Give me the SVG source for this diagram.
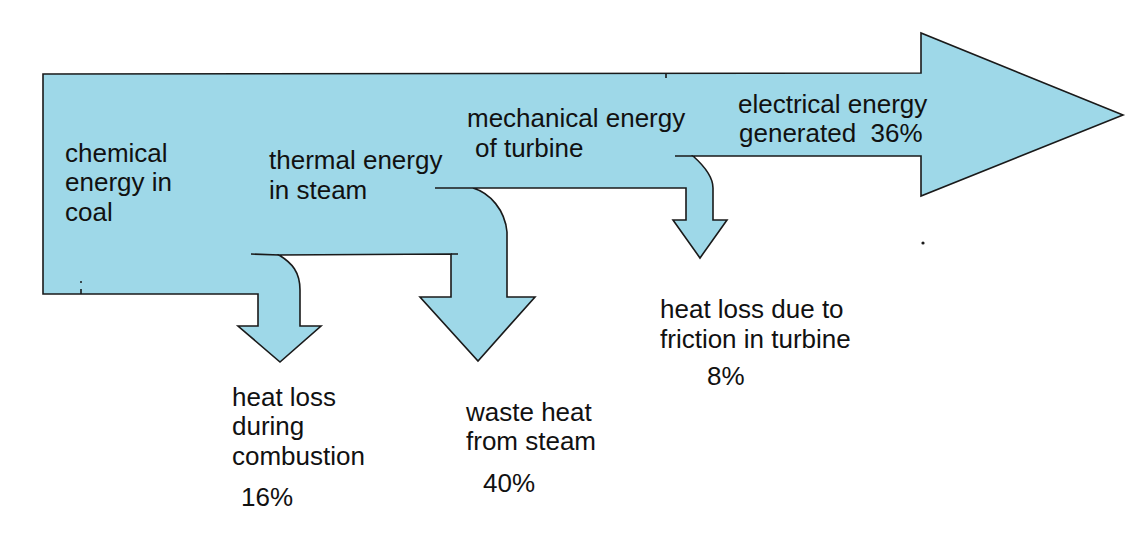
<svg xmlns="http://www.w3.org/2000/svg" width="1134" height="550" viewBox="0 0 1134 550">
  <style>
    .fill { fill: #9ED8E8; stroke: none; }
    .edge { fill: none; stroke: #1a1a1a; stroke-width: 1.6; stroke-linejoin: miter; }
    .lbl { font-family: "Liberation Sans", Arial, sans-serif; font-size: 26px; fill: #111111; white-space: pre; }
  </style>
  <rect x="0" y="0" width="1134" height="550" fill="#ffffff"/>

  <g id="flow-shape">
    <path class="fill" d="M43,74 L921,73 L921,33 L1123,115 L921,196 L921,156 L693,156 C702,164 713,175 713,188 L713,220 L727,220 L700,258 L673,220 L686,220 L686,188 L473,188 C490,193 505,210 507,232 L507,297 L535,297 L478,361 L420,297 L451,297 L451,254 L279,255 C292,263 300,272 300,290 L300,326 L321,326 L280,362 L238,326 L258,326 L258,294 L43,294 Z"/>
    <path class="edge" d="M43,74 L921,73 L921,33 L1123,115 L921,196 L921,156 L693,156 C702,164 713,175 713,188 L713,220 L727,220 L700,258 L673,220 L686,220 L686,188 L473,188 C490,193 505,210 507,232 L507,297 L535,297 L478,361 L420,297 L451,297 L451,254 L279,255 C292,263 300,272 300,290 L300,326 L321,326 L280,362 L238,326 L258,326 L258,294 L43,294 Z"/>
    <path class="edge" d="M675,156 L693,156 M435,188 L473,188 M251,254 L279,255 M451,254 L458,254 M81,294 L81,289 M666,73 L666,78"/>
    <circle cx="81" cy="282" r="1" fill="#1a1a1a"/>
    <circle cx="923" cy="243" r="1.6" fill="#1a1a1a"/>
  </g>

  <g id="label-chemical">
    <text class="lbl" x="65" y="162">chemical</text>
    <text class="lbl" x="65" y="191">energy in</text>
    <text class="lbl" x="65" y="221">coal</text>
  </g>
  <g id="label-thermal">
    <text class="lbl" x="269" y="169">thermal energy</text>
    <text class="lbl" x="269" y="199">in steam</text>
  </g>
  <g id="label-mechanical">
    <text class="lbl" x="467" y="127">mechanical energy</text>
    <text class="lbl" x="475" y="157">of turbine</text>
  </g>
  <g id="label-electrical">
    <text class="lbl" x="738" y="113">electrical energy</text>
    <text class="lbl" x="739" y="142">generated  36%</text>
  </g>
  <g id="label-combustion">
    <text class="lbl" x="232" y="406">heat loss</text>
    <text class="lbl" x="232" y="435">during</text>
    <text class="lbl" x="232" y="465">combustion</text>
    <text class="lbl" x="241" y="506">16%</text>
  </g>
  <g id="label-steam">
    <text class="lbl" x="466" y="421">waste heat</text>
    <text class="lbl" x="466" y="450">from steam</text>
    <text class="lbl" x="483" y="492">40%</text>
  </g>
  <g id="label-friction">
    <text class="lbl" x="660" y="318">heat loss due to</text>
    <text class="lbl" x="660" y="348">friction in turbine</text>
    <text class="lbl" x="707" y="385">8%</text>
  </g>
</svg>
